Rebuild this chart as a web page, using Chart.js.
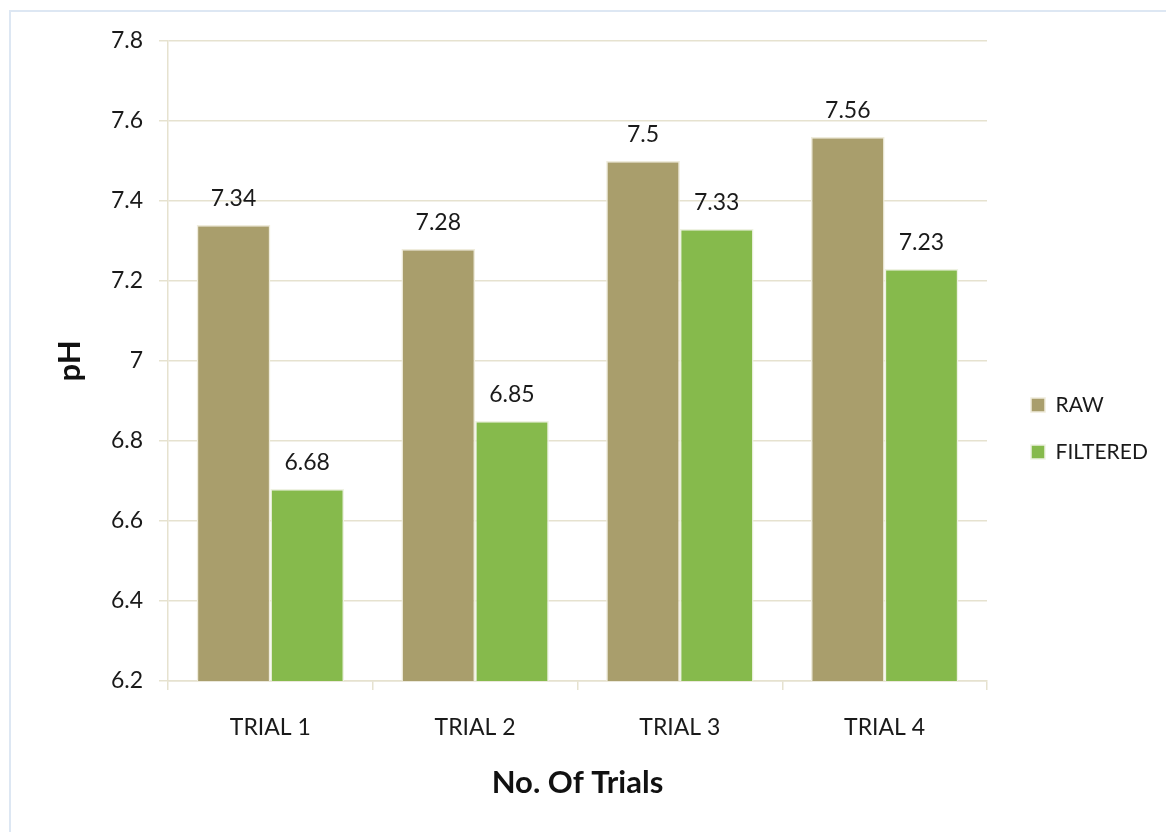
<!DOCTYPE html>
<html>
<head>
<meta charset="utf-8">
<script src="https://cdn.jsdelivr.net/npm/chart.js@4/dist/chart.umd.min.js"></script>
<style>
  html, body { margin: 0; padding: 0; background: #fff; overflow: hidden; }
  #frame {
    position: absolute; left: 9px; top: 10px; width: 1200px; height: 900px;
    border-left: 2px solid #dde7f3; border-top: 2px solid #dde7f3;
  }
  #wrap { position: absolute; left: 0; top: 0; width: 1166px; height: 832px; }
</style>
</head>
<body>
<div id="frame"></div>
<div id="wrap"><canvas id="chart"></canvas></div>
<script>
const trials = ["TRIAL 1", "TRIAL 2", "TRIAL 3", "TRIAL 4"];
const rawPH = [7.34, 7.28, 7.5, 7.56];
const filteredPH = [6.68, 6.85, 7.33, 7.23];

const FONT = "Lato, 'Open Sans', sans-serif";
const GRID = "#e6e2cf";

// value labels above each bar
const barLabels = {
  id: "barLabels",
  afterDatasetsDraw(chart) {
    const ctx = chart.ctx;
    ctx.save();
    ctx.font = "23px " + FONT;
    ctx.fillStyle = "#1a1a1a";
    ctx.textAlign = "center";
    ctx.textBaseline = "alphabetic";
    chart.data.datasets.forEach((ds, i) => {
      chart.getDatasetMeta(i).data.forEach((bar, j) => {
        ctx.fillText(String(ds.data[j]), bar.x, bar.y - 19);
      });
    });
    ctx.restore();
  }
};

// keep legend a fixed width and nudge it like the original
const legendPlace = {
  id: "legendPlace",
  afterInit(chart) {
    const lg = chart.legend;
    const fit = lg.fit;
    lg.fit = function () {
      fit.call(this);
      this.width = 179;
    };
  },
  afterLayout(chart) {
    chart.legend.left = chart.chartArea.right + 18;
    chart.legend.top -= 16;
  }
};

new Chart(document.getElementById("chart"), {
  type: "bar",
  data: {
    labels: trials,
    datasets: [
      {
        label: "RAW",
        data: rawPH,
        backgroundColor: "#a99e6c",
        borderColor: "#efecdc",
        borderWidth: 1.5,
        categoryPercentage: 0.72,
        barPercentage: 1.0
      },
      {
        label: "FILTERED",
        data: filteredPH,
        backgroundColor: "#86ba4c",
        borderColor: "#eef2e2",
        borderWidth: 1.5,
        categoryPercentage: 0.72,
        barPercentage: 1.0
      }
    ]
  },
  options: {
    responsive: true,
    maintainAspectRatio: false,
    animation: false,
    layout: { padding: { left: 20, top: 41, right: 0, bottom: 0 } },
    plugins: {
      tooltip: { enabled: false },
      legend: {
        position: "right",
        labels: {
          boxWidth: 14,
          boxHeight: 14,
          padding: 26,
          color: "#1a1a1a",
          font: { family: FONT, size: 21 }
        }
      }
    },
    scales: {
      x: {
        afterFit(s) { s.height = 151; },
        grid: { drawOnChartArea: false, drawTicks: true, tickLength: 9, color: GRID, lineWidth: 1.5 },
        border: { color: GRID, width: 1.5 },
        ticks: { color: "#1a1a1a", padding: 24, font: { family: FONT, size: 23 } },
        title: {
          display: true,
          text: "No. Of Trials",
          color: "#111",
          font: { family: FONT, size: 31, weight: "bold" },
          padding: { top: 0, bottom: 30 }
        }
      },
      y: {
        min: 6.2,
        max: 7.8,
        afterFit(s) { s.width = 148; },
        grid: { color: GRID, lineWidth: 1.5, tickLength: 9 },
        border: { color: GRID, width: 1.5 },
        ticks: {
          stepSize: 0.2,
          color: "#1a1a1a",
          padding: 16,
          font: { family: FONT, size: 23 },
          callback: (v) => String(+v.toFixed(1))
        },
        title: {
          display: true,
          text: "pH",
          color: "#111",
          font: { family: FONT, size: 31, weight: "bold" },
          padding: { top: 31, bottom: 0 }
        }
      }
    }
  },
  plugins: [barLabels, legendPlace]
});
</script>
</body>
</html>
